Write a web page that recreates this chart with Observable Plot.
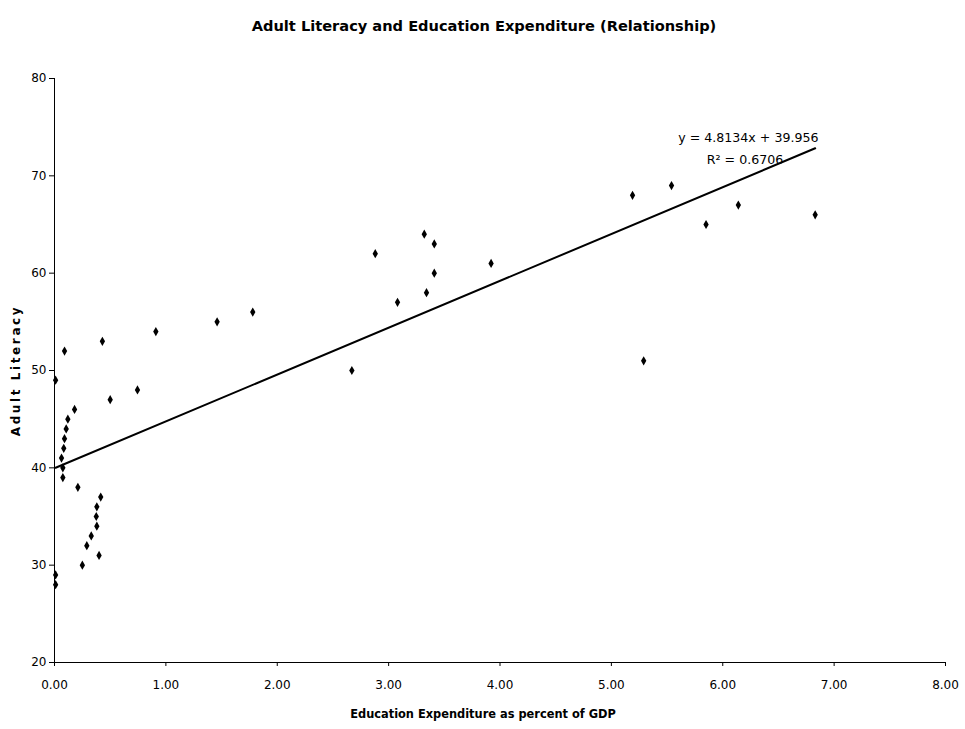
<!DOCTYPE html>
<html>
<head>
<meta charset="utf-8">
<script src="https://cdn.jsdelivr.net/npm/d3@7"></script>
<script src="https://cdn.jsdelivr.net/npm/@observablehq/plot@0.6"></script>
<style>
  html, body { margin: 0; padding: 0; background: #fff; }
  svg { font-family: "DejaVu Sans", sans-serif; }
</style>
</head>
<body>
<div id="chart"></div>
<script>
// Education expenditure (% of GDP)
const eduExpenditure = [
  0.01, 0.09, 0.43, 0.91, 1.46, 1.78, 0.745, 0.50, 0.18, 0.12,
  0.105, 0.09, 0.083, 0.063, 0.075, 0.075, 0.21, 0.415, 0.38, 0.375,
  0.38, 0.33, 0.29, 0.40, 0.25, 0.01, 0.01, 2.67, 3.08, 2.88,
  3.32, 3.41, 3.41, 3.34, 3.92, 5.19, 5.54, 5.85, 6.14, 6.83, 5.29
];
// Adult literacy
const adultLiteracy = [
  49, 52, 53, 54, 55, 56, 48, 47, 46, 45,
  44, 43, 42, 41, 40, 39, 38, 37, 36, 35,
  34, 33, 32, 31, 30, 29, 28, 50, 57, 62,
  64, 63, 60, 58, 61, 68, 69, 65, 67, 66, 51
];
const xTicks = [0, 1, 2, 3, 4, 5, 6, 7, 8];
const yTicks = [20, 30, 40, 50, 60, 70, 80];
const trendSlope = 4.8134;
const trendIntercept = 39.956;
const equationLines = ["y = 4.8134x + 39.956", "R² = 0.6706"];

const points = eduExpenditure.map((x, i) => ({x, y: adultLiteracy[i]}));
const xExt = d3.extent(eduExpenditure);
const trend = xExt.map(x => ({x, y: trendSlope * x + trendIntercept}));

const font = '"DejaVu Sans", sans-serif';

const chart = Plot.plot({
  width: 965,
  height: 729,
  marginLeft: 54,
  marginRight: 20,
  marginTop: 78,
  marginBottom: 67,
  style: {fontFamily: font, fontSize: "12px", color: "#000", background: "#fff"},
  x: {domain: [0, 8], ticks: xTicks, tickFormat: d3.format(".2f"), tickSize: 4, tickPadding: 14, label: null},
  y: {domain: [20, 80], ticks: yTicks, tickFormat: d => String(d), tickSize: 5, tickPadding: 3, label: null},
  marks: [
    Plot.ruleX([0], {stroke: "#000", strokeWidth: 1}),
    Plot.ruleY([20], {stroke: "#000", strokeWidth: 1}),
    Plot.line(trend, {x: "x", y: "y", stroke: "#000", strokeWidth: 2}),
    Plot.dot(points, {x: "x", y: "y", symbol: "diamond", r: 2.8, fill: "#000", stroke: null}),
    Plot.text([equationLines[0]], {x: 6.23, y: 73.94, text: d => d, fontSize: 12.6, fill: "#000"}),
    Plot.text([equationLines[1]], {x: 6.2, y: 71.6, text: d => d, fontSize: 12.6, fill: "#000"}),
    Plot.text(["Adult Literacy and Education Expenditure (Relationship)"], {
      frameAnchor: "top", dx: -16, dy: -58, text: d => d, fontSize: 14.6, fontWeight: "bold", fill: "#000"
    }),
    Plot.text(["Education Expenditure as percent of GDP"], {
      frameAnchor: "bottom", dx: -17, dy: 55, text: d => d, fontSize: 11.4, fontWeight: "bold", fill: "#000"
    }),
    Plot.text(["Adult Literacy"], {
      frameAnchor: "left", textAnchor: "middle", dx: -38, dy: 0, rotate: -90, text: d => d, fontSize: 12, fontWeight: "bold", fill: "#000"
    })
  ]
});

d3.select(chart).selectAll("text").filter(function() { return this.textContent === "Adult Literacy"; })
  .attr("letter-spacing", "2.6px");

document.getElementById("chart").appendChild(chart);
</script>
</body>
</html>
